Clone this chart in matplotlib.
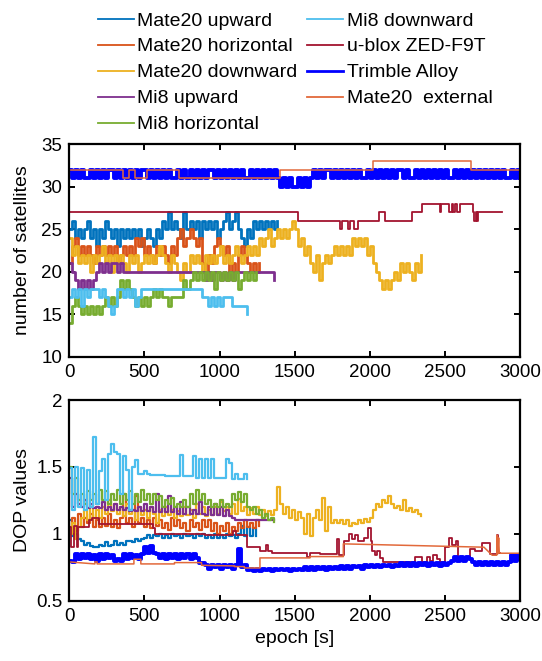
import numpy as np
import matplotlib
matplotlib.use('Agg')
import matplotlib.pyplot as plt
from matplotlib.ticker import FormatStrFormatter

plt.rcParams['font.family'] = ['Liberation Sans', 'DejaVu Sans']

# sampling interval of the logged series [s]
dt = 20

names = ['Mate20 upward', 'Mate20 horizontal', 'Mate20 downward', 'Mi8 upward',
         'Mi8 horizontal', 'Mi8 downward', 'u-blox ZED-F9T', 'Trimble Alloy',
         'Mate20  external']
colors = ['#0072BD', '#D95319', '#EDB120', '#7E2F8E', '#77AC30', '#4DBEEE',
          '#A2142F', '#0000FF', '#E2693A']

# ---- number of satellites ----
sat_m20_up = [25, 26, 24, 25, 24, 25, 26, 24, 25, 23,
              25, 24, 26, 25, 24, 25, 23, 25, 24, 25,
              24, 25, 24, 25, 23, 24, 25, 24, 23, 25,
              24, 26, 25, 27, 25, 26, 25, 24, 27, 25,
              26, 25, 26, 24, 26, 25, 26, 25, 26, 24,
              25, 26, 27, 25, 26, 27, 25, 24, 23, 25,
              24, 26, 25, 26, 25, 26, 25, 26, 25, 26]
sat_m20_hor = [21, 23, 24, 22, 23, 22, 23, 22, 21, 23,
               22, 23, 22, 23, 22, 23, 21, 22, 23, 22,
               23, 22, 24, 23, 24, 22, 23, 22, 21, 23,
               22, 23, 22, 21, 23, 22, 24, 25, 23, 24,
               25, 24, 23, 24, 21, 20, 22, 21, 23, 24,
               23, 22, 23, 20, 21, 20, 22, 23, 22, 21,
               20, 21, 20, 21]
sat_m20_down = [24, 22, 23, 21, 22, 21, 22, 20, 22, 21,
                22, 23, 21, 22, 20, 22, 21, 22, 21, 20,
                22, 21, 22, 20, 21, 22, 21, 22, 21, 22,
                23, 22, 21, 20, 22, 21, 20, 19, 21, 20,
                22, 21, 22, 21, 20, 22, 21, 22, 21, 22,
                23, 21, 22, 21, 22, 23, 22, 21, 22, 23,
                22, 23, 22, 24, 23, 24, 25, 23, 24, 25,
                24, 25, 24, 25, 26, 25, 23, 24, 22, 23,
                21, 20, 22, 19, 21, 22, 21, 22, 23, 22,
                23, 22, 23, 22, 24, 23, 24, 23, 24, 22,
                23, 21, 20, 19, 18, 19, 18, 19, 20, 19,
                21, 20, 21, 20, 19, 21, 20, 22]
sat_mi8_up = [21, 20, 19, 18, 19, 18, 19, 18, 19, 20,
              21, 20, 21, 20, 21, 21, 20, 21, 20, 20,
              20, 20, 20, 20, 20, 20, 20, 20, 20, 20,
              20, 20, 20, 20, 20, 20, 20, 20, 20, 20,
              20, 20, 20, 20, 20, 19, 20, 19, 20, 20,
              19, 20, 19, 20, 19, 20, 20, 20, 20, 20,
              20, 20, 20, 20, 20, 20, 20, 20, 19]
sat_mi8_hor = [14, 16, 17, 16, 15, 16, 15, 16, 15, 16,
               15, 16, 17, 16, 17, 16, 17, 19, 18, 19,
               18, 17, 16, 17, 16, 17, 16, 17, 18, 17,
               18, 17, 17, 16, 17, 17, 17, 17, 19, 18,
               19, 20, 19, 20, 19, 20, 19, 20, 18, 20,
               19, 20, 19, 20, 19, 20, 18, 19, 20, 19,
               20, 19, 20]
sat_mi8_down = [17, 18, 17, 18, 16, 18, 17, 18, 18, 18,
                17, 18, 17, 16, 15, 16, 18, 18, 17, 18,
                17, 18, 16, 17, 18, 18, 18, 18, 18, 18,
                18, 18, 18, 18, 18, 18, 18, 18, 18, 18,
                18, 18, 18, 18, 17, 17, 16, 17, 16, 17,
                16, 17, 17, 17, 16, 16, 16, 16, 16, 15]
sat_trimble = [32, 31, 32, 31, 32, 31, 31, 32, 31, 32,
               31, 32, 31, 32, 32, 31, 32, 31, 32, 31,
               32, 31, 32, 31, 32, 32, 31, 32, 31, 32,
               31, 32, 31, 32, 31, 31, 32, 31, 32, 31,
               32, 31, 32, 31, 32, 31, 32, 32, 31, 32,
               31, 32, 31, 32, 31, 32, 31, 32, 31, 31,
               32, 31, 32, 31, 32, 31, 32, 31, 32, 31,
               30, 31, 30, 31, 30, 30, 31, 30, 31, 30,
               31, 32, 31, 32, 31, 32, 32, 31, 32, 31,
               32, 31, 32, 31, 32, 31, 32, 31, 31, 32,
               31, 32, 31, 32, 31, 32, 31, 32, 31, 32,
               32, 31, 32, 31, 31, 32, 31, 32, 31, 32,
               31, 32, 31, 32, 31, 32, 31, 31, 32, 31,
               32, 31, 32, 31, 32, 31, 32, 31, 32, 31,
               32, 31, 32, 31, 32, 31, 31, 32, 31, 32,
               31]
# receivers logged only when the count changed
ublox_sat_t = [0, 1524, 1802, 1813, 1857, 1869, 1895, 1924, 2063, 2101, 2283,
               2345, 2465, 2472, 2530, 2545, 2555, 2565, 2580, 2600, 2689,
               2694, 2704, 2712, 2722, 2878]
ublox_sat = [27, 26, 25, 26, 25, 26, 25, 26, 27, 26, 27,
             28, 27, 28, 27, 28, 27, 28, 27, 28, 27,
             26, 27, 26, 27, 27]
ext_sat_t = [0, 355, 395, 435, 520, 730, 1403, 2019, 2674, 3000]
ext_sat = [32, 31, 32, 31, 32, 31, 32, 33, 32, 32]

# ---- DOP ----
dop_m20_up = [1.10, 0.98, 1.00, 0.96, 0.95, 0.92, 0.93, 0.91, 0.90, 0.90,
              0.92, 0.91, 0.94, 0.91, 0.92, 0.95, 0.92, 0.93, 0.92, 0.95,
              0.95, 0.94, 0.96, 0.95, 0.96, 0.97, 0.99, 0.97, 0.99, 0.98,
              1.00, 0.97, 0.99, 0.97, 1.00, 0.98, 0.99, 0.97, 1.00, 0.98,
              0.99, 0.97, 1.00, 0.98, 1.00, 0.97, 0.99, 0.97, 1.00, 0.97,
              0.99, 0.97, 1.00, 0.98, 0.99, 0.97, 1.00, 1.06, 0.98, 1.05,
              0.98, 1.04, 0.98]
dop_m20_hor = [1.05, 1.12, 1.02, 1.15, 1.05, 1.12, 1.08, 1.15, 1.05, 1.10,
               1.05, 1.12, 1.06, 1.15, 1.05, 1.10, 1.04, 1.12, 1.30, 1.08,
               1.12, 1.05, 1.28, 1.08, 1.12, 1.05, 1.10, 1.04, 1.12, 1.06,
               1.10, 1.04, 1.08, 1.03, 1.12, 1.06, 1.10, 1.04, 1.08, 1.02,
               1.10, 1.05, 1.08, 1.03, 1.10, 1.05, 1.10, 1.02, 1.08, 1.00,
               1.06, 1.02, 1.08, 1.00, 1.05, 1.02, 1.08, 1.04, 1.10, 1.05,
               1.08, 1.04, 1.10, 1.06]
dop_m20_down = [1.00, 1.08, 0.96, 1.05, 1.12, 1.18, 1.10, 1.20, 1.12, 1.18,
                1.12, 1.20, 1.15, 1.25, 1.17, 1.22, 1.15, 1.20, 1.13, 1.22,
                1.15, 1.18, 1.10, 1.20, 1.14, 1.18, 1.12, 1.20, 1.15, 1.08,
                1.18, 1.13, 1.20, 1.14, 1.18, 1.12, 1.17, 1.13, 1.20, 1.14,
                1.18, 1.12, 1.22, 1.15, 1.20, 1.13, 1.18, 1.14, 1.20, 1.15,
                1.24, 1.17, 1.20, 1.15, 1.22, 1.15, 1.26, 1.17, 1.20, 1.14,
                1.19, 1.15, 1.20, 1.14, 1.18, 1.13, 1.17, 1.14, 1.18, 1.35,
                1.22, 1.15, 1.20, 1.12, 1.18, 1.10, 1.16, 1.12, 1.00, 1.15,
                0.98, 1.12, 1.18, 1.10, 1.27, 1.02, 1.20, 1.08, 1.10, 1.08,
                1.10, 1.07, 1.10, 1.06, 1.08, 1.07, 1.10, 1.08, 1.11, 1.09,
                1.12, 1.18, 1.22, 1.20, 1.25, 1.23, 1.28, 1.22, 1.19, 1.21,
                1.18, 1.25, 1.17, 1.19, 1.16, 1.18, 1.15, 1.13]
dop_mi8_up = [1.42, 1.20, 1.30, 1.22, 1.20, 1.25, 1.19, 1.22, 1.19, 1.20,
              1.19, 1.24, 1.18, 1.20, 1.18, 1.22, 1.18, 1.20, 1.18, 1.19,
              1.17, 1.18, 1.17, 1.20, 1.17, 1.22, 1.17, 1.20, 1.16, 1.30,
              1.16, 1.20, 1.16, 1.28, 1.16, 1.20, 1.15, 1.24, 1.15, 1.20,
              1.15, 1.18, 1.15, 1.24, 1.15, 1.14, 1.20, 1.14, 1.22, 1.14,
              1.20, 1.13, 1.18, 1.13, 1.12, 1.10, 1.10, 1.10, 1.10, 1.10,
              1.10, 1.10, 1.10, 1.10, 1.10, 1.10, 1.10, 1.10, 1.10]
dop_mi8_hor = [1.50, 1.30, 1.42, 1.25, 1.30, 1.22, 1.32, 1.25, 1.30, 1.22,
               1.33, 1.25, 1.32, 1.22, 1.30, 1.25, 1.33, 1.22, 1.30, 1.25,
               1.32, 1.22, 1.30, 1.24, 1.33, 1.25, 1.30, 1.22, 1.30, 1.25,
               1.28, 1.20, 1.25, 1.22, 1.27, 1.20, 1.22, 1.20, 1.25, 1.20,
               1.30, 1.22, 1.33, 1.25, 1.30, 1.22, 1.25, 1.20, 1.22, 1.20,
               1.25, 1.20, 1.22, 1.20, 1.30, 1.25, 1.31, 1.24, 1.30, 1.20,
               1.18, 1.20, 1.15, 1.18, 1.12, 1.15, 1.10, 1.12, 1.09]
dop_mi8_down = [1.49, 1.18, 1.50, 1.20, 1.49, 1.18, 1.48, 1.20, 1.72, 1.22,
                1.47, 1.56, 1.25, 1.60, 1.67, 1.61, 1.60, 1.30, 1.58, 1.48,
                1.18, 1.50, 1.55, 1.45, 1.45, 1.47, 1.45, 1.44, 1.44, 1.44,
                1.44, 1.44, 1.43, 1.43, 1.43, 1.43, 1.43, 1.59, 1.43, 1.43,
                1.43, 1.58, 1.42, 1.56, 1.42, 1.56, 1.42, 1.56, 1.42, 1.42,
                1.42, 1.42, 1.56, 1.53, 1.41, 1.45, 1.41, 1.41, 1.45, 1.41]
dop_trimble = [0.80, 0.79, 0.85, 0.81, 0.85, 0.82, 0.85, 0.81, 0.84, 0.80,
               0.85, 0.81, 0.85, 0.82, 0.84, 0.80, 0.81, 0.80, 0.85, 0.81,
               0.85, 0.82, 0.84, 0.81, 0.85, 0.90, 0.86, 0.91, 0.86, 0.85,
               0.82, 0.85, 0.81, 0.85, 0.82, 0.85, 0.81, 0.85, 0.82, 0.85,
               0.81, 0.85, 0.82, 0.78, 0.78, 0.77, 0.74, 0.77, 0.75, 0.77,
               0.74, 0.77, 0.75, 0.77, 0.74, 0.77, 0.89, 0.75, 0.77, 0.73,
               0.74, 0.72, 0.74, 0.72, 0.74, 0.73, 0.74, 0.72, 0.74, 0.73,
               0.74, 0.73, 0.74, 0.72, 0.74, 0.73, 0.74, 0.73, 0.75, 0.73,
               0.75, 0.73, 0.75, 0.74, 0.75, 0.73, 0.75, 0.74, 0.75, 0.74,
               0.76, 0.74, 0.76, 0.74, 0.76, 0.75, 0.76, 0.74, 0.77, 0.75,
               0.77, 0.75, 0.77, 0.75, 0.77, 0.76, 0.77, 0.75, 0.77, 0.76,
               0.78, 0.76, 0.78, 0.76, 0.78, 0.76, 0.78, 0.77, 0.78, 0.76,
               0.78, 0.77, 0.78, 0.76, 0.78, 0.77, 0.78, 0.80, 0.83, 0.80,
               0.83, 0.80, 0.83, 0.81, 0.79, 0.77, 0.79, 0.77, 0.79, 0.77,
               0.79, 0.77, 0.79, 0.77, 0.79, 0.77, 0.79, 0.84, 0.80, 0.84,
               0.81]
ublox_dop_t = [0, 10, 30, 50, 60, 130, 150, 200, 560, 570, 900, 1090, 1110,
               1180, 1270, 1310, 1320, 1350, 1580, 1600, 1670, 1780, 1795,
               1830, 1860, 1880, 1900, 1920, 1960, 1990, 2005, 2015, 2035,
               2050, 2065, 2090, 2300, 2345, 2380, 2400, 2420, 2445, 2470,
               2500, 2525, 2550, 2575, 2590, 2670, 2700, 2745, 2800, 2845,
               2855, 2870]
ublox_dop = [1.05, 0.90, 1.06, 0.90, 1.05, 1.10, 1.12, 1.07, 1.04, 1.00,
             0.99, 1.02, 0.99, 0.90, 0.87, 0.92, 0.87, 0.86, 0.83, 0.86,
             0.85, 0.96, 0.84, 0.95, 1.00, 0.96, 0.99, 0.95, 0.97, 1.04,
             0.95, 0.87, 0.84, 0.87, 0.82, 0.79, 0.83, 0.79, 0.83, 0.80,
             0.84, 0.81, 0.79, 0.90, 0.97, 0.92, 0.95, 0.82, 0.89, 0.87,
             0.93, 0.85, 0.99, 0.86, 0.86]
ext_dop_t = [0, 170, 170, 185, 185, 430, 430, 476, 476, 700, 700, 880, 880,
             1100, 1100, 1165, 1165, 1269, 1269, 1602, 1602, 1824, 1824,
             2760, 2815, 2845, 2848, 2852, 2858, 2862, 2870, 3000]
ext_dop = [0.79, 0.775, 0.79, 0.79, 0.775, 0.775, 0.81, 0.81, 0.775, 0.775,
           0.785, 0.785, 0.765, 0.76, 0.755, 0.755, 0.745, 0.745, 0.82, 0.82,
           0.83, 0.83, 0.925, 0.90, 0.84, 0.84, 0.99, 0.85, 0.97, 0.86,
           0.855, 0.855]

sat_series = [sat_m20_up, sat_m20_hor, sat_m20_down, sat_mi8_up,
              sat_mi8_hor, sat_mi8_down]
dop_series = [dop_m20_up, dop_m20_hor, dop_m20_down, dop_mi8_up,
              dop_mi8_hor, dop_mi8_down]

fig = plt.figure(figsize=(5.42, 6.61), dpi=100)
ax1 = fig.add_axes([0.1279, 0.4604, 0.8315, 0.3213])
ax2 = fig.add_axes([0.1279, 0.0912, 0.8315, 0.3036])

handles = []
for ax, phones, trim, ub_t, ub, ex_t, ex, lw in [
        (ax1, sat_series, sat_trimble, ublox_sat_t, ublox_sat, ext_sat_t, ext_sat, 2.0),
        (ax2, dop_series, dop_trimble, ublox_dop_t, ublox_dop, ext_dop_t, ext_dop, 1.6)]:
    hs = []
    for vals, c in zip(phones, colors[:6]):
        t = np.arange(len(vals)) * dt
        h, = ax.plot(t, vals, color=c, lw=lw, drawstyle='steps-post')
        hs.append(h)
    h, = ax.plot(ub_t, ub, color=colors[6], lw=1.3, drawstyle='steps-post')
    hs.append(h)
    h, = ax.plot(np.arange(len(trim)) * dt, trim, color=colors[7], lw=2.8,
                 drawstyle='steps-post')
    hs.append(h)
    if ax is ax1:
        h, = ax.plot(ex_t, ex, color=colors[8], lw=1.1, drawstyle='steps-post')
    else:
        h, = ax.plot(ex_t, ex, color=colors[8], lw=1.1)
    hs.append(h)
    handles = hs

for ax in (ax1, ax2):
    ax.set_xlim(0, 3000)
    ax.set_xticks(range(0, 3001, 500))
    ax.tick_params(direction='in', top=True, right=True, length=4, width=1.4,
                   labelsize=13.5, pad=5)
    for s in ax.spines.values():
        s.set_linewidth(1.6)

ax1.set_ylim(10, 35)
ax1.set_yticks(range(10, 36, 5))
ax1.set_ylabel('number of satellites', fontsize=14)
ax1.yaxis.set_label_coords(-0.085, 0.5)

ax2.set_ylim(0.5, 2)
ax2.set_yticks([0.5, 1, 1.5, 2])
ax2.yaxis.set_major_formatter(FormatStrFormatter('%g'))
ax2.set_ylabel('DOP values', fontsize=14)
ax2.yaxis.set_label_coords(-0.085, 0.5)
ax2.set_xlabel('epoch [s]', fontsize=14, labelpad=4)

leg = fig.legend(handles, names, ncol=2, loc='upper left',
                 bbox_to_anchor=(0.18, 0.982), frameon=False, fontsize=14,
                 handlelength=1.85, handletextpad=0.2, columnspacing=0.5,
                 labelspacing=0.43, borderpad=0, borderaxespad=0)
for lh in leg.get_lines():
    lh.set_linewidth(1.3)
leg.get_lines()[7].set_linewidth(2.0)

fig.savefig('out.png', dpi=100)
